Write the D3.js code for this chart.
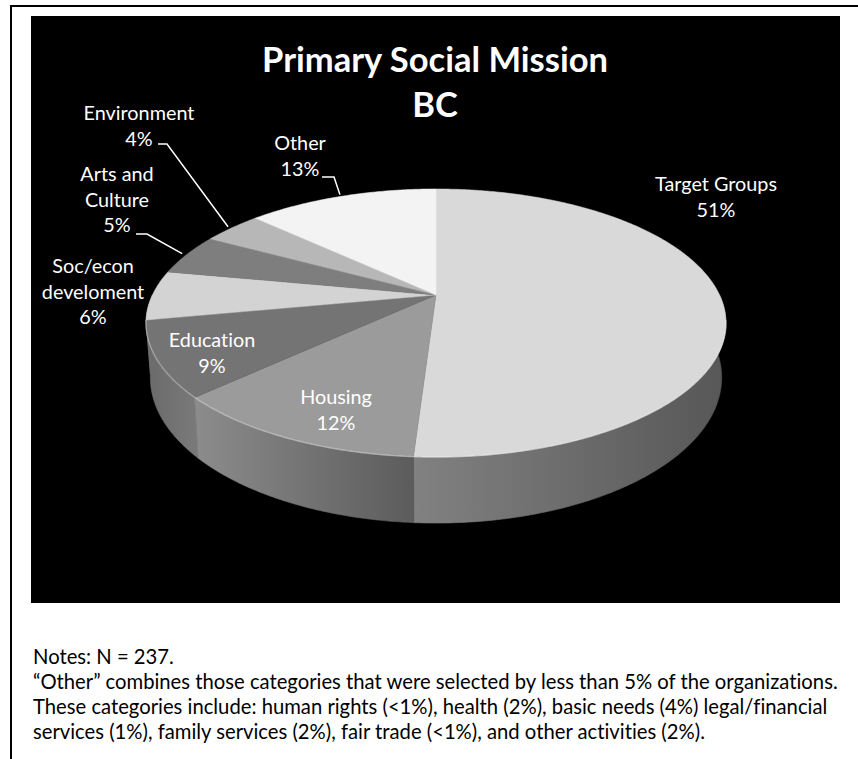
<!DOCTYPE html>
<html>
<head>
<meta charset="utf-8">
<script src="https://cdn.jsdelivr.net/npm/d3@7"></script>
<style>
  html, body { margin: 0; padding: 0; background: #fff; }
  svg { display: block; }
  text { font-variant-ligatures: none; }
</style>
</head>
<body>
<script>
// ---- data ----
const categories = ["Target Groups", "Housing", "Education", "Soc/econ develoment", "Arts and Culture", "Environment", "Other"];
const shares = [51, 12, 9, 6, 5, 4, 13];
const labelLines = [["Target Groups"], ["Housing"], ["Education"], ["Soc/econ", "develoment"], ["Arts and", "Culture"], ["Environment"], ["Other"]];
const titleLines = ["Primary Social Mission", "BC"];
const noteLines = [
  "Notes: N = 237.",
  "\u201COther\u201D combines those categories that were selected by less than 5% of the organizations.",
  "These categories include: human rights (<1%), health (2%), basic needs (4%) legal/financial",
  "services (1%), family services (2%), fair trade (<1%), and other activities (2%)."
];

// ---- styles ----
const topGreys = ["#d9d9d9", "#9b9b9b", "#747474", "#d3d3d3", "#7e7e7e", "#b7b7b7", "#f3f3f3"];
const wallGreys = [["#818181", "#575757"], ["#8c8c8c", "#5c5c5c"], ["#6a6a6a", "#7a7a7a"],
                   ["#8a8a8a", "#6a6a6a"], ["#5e5e5e", "#555555"], ["#777777", "#666666"], ["#9a9a9a", "#808080"]];
const FONT = "Lato, 'Open Sans', sans-serif";

const W = 858, H = 759;
const svg = d3.select("body").append("svg").attr("width", W).attr("height", H);
const defs = svg.append("defs");

// frame lines and dark chart area
svg.append("line").attr("x1", 10).attr("x2", W).attr("y1", 6).attr("y2", 6)
  .attr("stroke", "#000").attr("stroke-width", 2);
svg.append("line").attr("x1", 11).attr("x2", 11).attr("y1", 5).attr("y2", H)
  .attr("stroke", "#000").attr("stroke-width", 2);
svg.append("rect").attr("x", 31).attr("y", 16).attr("width", 809).attr("height", 587).attr("fill", "#000");

// ---- perspective pie geometry ----
const CX = 436, CY = 295;       // apex of the slices
const RX = 283.6, RY = 128.2;   // projected radii
const PA = -0.209;              // perspective foreshortening
const DEPTH = 52.2;             // thickness of the disc
const KB = 0.985;               // bottom disc shrink

function proj(theta, r = 1, bottom = false) {
  const u = r * Math.sin(theta), v = -r * Math.cos(theta);
  const w = 1 + PA * v;
  const s = bottom ? KB : 1;
  return [CX + s * RX * u / w, CY + RY * v / w + (bottom ? DEPTH / w : 0)];
}
function arcPoints(a0, a1, bottom = false) {
  const n = Math.max(2, Math.ceil((a1 - a0) / (Math.PI / 360)));
  return d3.range(n + 1).map(i => proj(a0 + (a1 - a0) * i / n, 1, bottom));
}

const arcs = d3.pie().sort(null).value(d => d)(shares);
const line = d3.line();

// side walls (front half only), outermost first so front pieces land on top
const walls = arcs.map((d, i) => ({ d, i, a0: Math.max(d.startAngle, Math.PI / 2), a1: Math.min(d.endAngle, 3 * Math.PI / 2) }))
  .filter(w => w.a0 < w.a1)
  .sort((p, q) => Math.abs((q.a0 + q.a1) / 2 - Math.PI) - Math.abs((p.a0 + p.a1) / 2 - Math.PI));

const gWalls = svg.append("g");
walls.forEach(w => {
  const top = arcPoints(w.a0, w.a1, false);
  const bot = arcPoints(w.a0, w.a1, true).reverse();
  const pts = top.concat(bot);
  const xs = pts.map(p => p[0]);
  const gid = "wall" + w.i;
  const grad = defs.append("linearGradient").attr("id", gid).attr("gradientUnits", "userSpaceOnUse")
    .attr("x1", d3.min(xs)).attr("x2", d3.max(xs)).attr("y1", 0).attr("y2", 0);
  grad.append("stop").attr("offset", 0).attr("stop-color", wallGreys[w.i][0]);
  grad.append("stop").attr("offset", 1).attr("stop-color", wallGreys[w.i][1]);
  gWalls.append("path").attr("d", line(pts) + "Z").attr("fill", `url(#${gid})`)
    .attr("stroke", `url(#${gid})`).attr("stroke-width", 0.6);
});

// top faces
const gTop = svg.append("g");
arcs.forEach((d, i) => {
  const pts = [[CX, CY]].concat(arcPoints(d.startAngle, d.endAngle, false));
  gTop.append("path").attr("d", line(pts) + "Z").attr("fill", topGreys[i])
    .attr("stroke", topGreys[i]).attr("stroke-width", 0.5).attr("stroke-linejoin", "round");
});
// soft highlight along the front rim
svg.append("path").attr("d", line(arcPoints(Math.PI * 0.56, Math.PI * 1.44, false)))
  .attr("fill", "none").attr("stroke", "#ffffff").attr("stroke-opacity", 0.35).attr("stroke-width", 1.4);

// ---- text helpers ----
function fitSize(str, weight, targetWidth) {
  const t = svg.append("text").attr("font-family", FONT).attr("font-weight", weight)
    .attr("font-size", 100).text(str);
  const w = t.node().getComputedTextLength();
  t.remove();
  return 100 * targetWidth / w;
}

// title
const titleSize = fitSize(titleLines[0], "bold", 346);
svg.append("g").selectAll("text").data(titleLines).join("text")
  .attr("x", 435).attr("y", (d, i) => 72 + i * 45)
  .attr("text-anchor", "middle").attr("font-family", FONT).attr("font-weight", "bold")
  .attr("font-size", titleSize).attr("fill", "#fff").text(d => d);

// data labels
const labelSize = fitSize(labelLines[0][0], "normal", 122);
const labelLayout = [
  { x: 716, y: 191 },   // Target Groups
  { x: 336, y: 404 },   // Housing
  { x: 212, y: 347 },   // Education
  { x: 93, y: 273 },    // Soc/econ
  { x: 117, y: 181 },   // Arts and Culture
  { x: 139, y: 120 },   // Environment
  { x: 300, y: 150 }    // Other
];
const LH = 25.5;
const gLab = svg.append("g").attr("font-family", FONT).attr("font-size", labelSize).attr("fill", "#fff")
  .attr("text-anchor", "middle");
arcs.forEach((d, i) => {
  const lines = labelLines[i].concat([d.data + "%"]);
  lines.forEach((s, j) => {
    gLab.append("text").attr("x", labelLayout[i].x).attr("y", labelLayout[i].y + j * LH).text(s);
  });
});

// leader lines for the outside labels
const leaders = [
  { i: 5, from: [158, 144], knee: [167, 144] },
  { i: 4, from: [136, 234], knee: [147, 234] },
  { i: 6, from: [322, 177], knee: [334, 177] }
];
leaders.forEach(l => {
  const d = arcs[l.i];
  const end = proj((d.startAngle + d.endAngle) / 2, 1.02, false);
  svg.append("path").attr("d", line([l.from, l.knee, end])).attr("fill", "none")
    .attr("stroke", "#fff").attr("stroke-width", 1.5);
});

// notes beneath the chart
const noteSize = fitSize(noteLines[1], "normal", 805);
svg.append("g").selectAll("text").data(noteLines).join("text")
  .attr("x", 33).attr("y", (d, i) => 664 + i * 25)
  .attr("font-family", FONT).attr("font-size", noteSize).attr("fill", "#000").text(d => d);
</script>
</body>
</html>
